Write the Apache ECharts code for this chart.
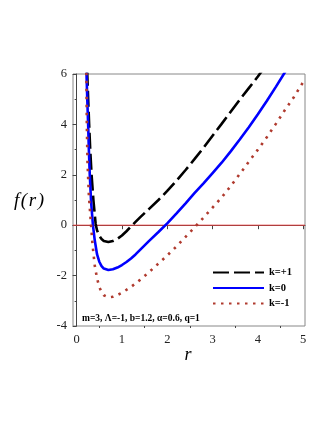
<!DOCTYPE html>
<html>
<head>
<meta charset="utf-8">
<script src="https://cdn.jsdelivr.net/npm/echarts@6/dist/echarts.min.js"></script>
<style>
  html, body { margin: 0; padding: 0; background: #fff; }
  #chart { width: 332px; height: 430px; }
</style>
</head>
<body>
<div id="chart"></div>
<script>
  // k=+1 (black dashed)
  const rBlack = [0.225, 0.235, 0.255, 0.276, 0.30, 0.33, 0.37, 0.42, 0.45, 0.50, 0.55, 0.60, 0.70, 0.80, 0.90, 1.00, 1.10, 1.20, 1.30, 1.40, 1.60, 1.80, 2.00, 2.20, 2.40, 2.60, 2.80, 3.00, 3.20, 3.40, 3.60, 3.80, 4.00, 4.10]
  const fBlack = [7.0, 6.0, 5.0, 4.0, 3.0, 2.0, 1.0, 0.05, -0.2, -0.42, -0.55, -0.63, -0.67, -0.63, -0.54, -0.41, -0.24, -0.05, 0.13, 0.31, 0.65, 0.99, 1.36, 1.76, 2.18, 2.62, 3.07, 3.55, 4.02, 4.50, 4.98, 5.44, 5.90, 6.15]
  // k=0 (blue solid)
  const rBlue = [0.205, 0.218, 0.235, 0.254, 0.27, 0.29, 0.32, 0.36, 0.40, 0.45, 0.50, 0.55, 0.60, 0.70, 0.80, 0.90, 1.00, 1.10, 1.20, 1.30, 1.40, 1.60, 1.80, 2.00, 2.20, 2.40, 2.60, 2.80, 3.00, 3.20, 3.40, 3.60, 3.80, 4.00, 4.20, 4.40, 4.60, 4.70]
  const fBlue = [7.2, 6.0, 5.0, 4.0, 3.0, 2.0, 0.9, 0.0, -0.6, -1.15, -1.45, -1.62, -1.72, -1.78, -1.75, -1.68, -1.58, -1.46, -1.32, -1.16, -0.98, -0.62, -0.28, 0.07, 0.46, 0.86, 1.27, 1.66, 2.07, 2.48, 2.93, 3.40, 3.89, 4.40, 4.94, 5.50, 6.08, 6.38]
  // k=-1 (red dotted)
  const rRed = [0.21, 0.215, 0.225, 0.24, 0.27, 0.31, 0.35, 0.40, 0.45, 0.50, 0.55, 0.60, 0.70, 0.80, 0.90, 1.00, 1.20, 1.40, 1.60, 1.80, 2.00, 2.20, 2.40, 2.60, 2.80, 3.00, 3.20, 3.40, 3.60, 3.80, 4.00, 4.20, 4.40, 4.60, 4.80, 5.00]
  const fRed = [7.0, 6.0, 4.0, 2.5, 1.2, 0.2, -0.75, -1.6, -2.1, -2.45, -2.65, -2.78, -2.86, -2.84, -2.77, -2.68, -2.45, -2.17, -1.86, -1.53, -1.2, -0.85, -0.47, -0.09, 0.3, 0.7, 1.1, 1.55, 2.03, 2.52, 3.0, 3.5, 4.03, 4.58, 5.1, 5.68]
  // horizontal reference line f=0
  const rZero = [-0.08, 5.04]
  const fZero = [0, 0]

  const xMajor = [0, 1, 2, 3, 4, 5]
  const xMinor = [0.5, 1.5, 2.5, 3.5, 4.5]
  const legendNames = ['k=+1', 'k=0', 'k=-1']
  const paramText = 'm=3, Λ=-1, b=1.2, α=0.6, q=1'

  const pairs = (xs, ys) => xs.map((x, i) => [x, ys[i]])
  const serif = '"Liberation Serif", "DejaVu Serif", serif'
  const axisColor = '#444'

  const chart = echarts.init(document.getElementById('chart'))
  chart.setOption({
    animation: false,
    grid: {
      left: 73, right: 27, top: 74, bottom: 104,
      show: true, borderColor: '#888', borderWidth: 1
    },
    legend: {
      orient: 'vertical',
      left: 212,
      top: 266.5,
      padding: 0,
      itemWidth: 51,
      itemHeight: 10,
      itemGap: 3.5,
      data: legendNames,
      itemStyle: { opacity: 0 },
      textStyle: { fontFamily: serif, fontWeight: 'bold', fontSize: 10.5, color: '#000', lineHeight: 12 }
    },
    xAxis: [{
      type: 'value',
      min: -0.08,
      max: 5.04,
      axisLine: { lineStyle: { color: axisColor } },
      axisTick: { show: true, length: 4, customValues: xMajor, lineStyle: { color: axisColor } },
      axisLabel: { customValues: xMajor, margin: 7, fontFamily: serif, fontSize: 12.5, color: '#222' },
      splitLine: { show: false }
    }, {
      type: 'value',
      position: 'bottom',
      min: -0.08,
      max: 5.04,
      axisLine: { show: false },
      axisTick: { show: true, length: 2, customValues: xMinor, lineStyle: { color: axisColor } },
      axisLabel: { show: false },
      splitLine: { show: false }
    }],
    yAxis: {
      type: 'value',
      min: -4,
      max: 6,
      interval: 2,
      axisLine: { show: true, lineStyle: { color: axisColor } },
      axisTick: { show: true, length: 4, lineStyle: { color: axisColor } },
      minorTick: { show: true, splitNumber: 2, length: 2, lineStyle: { color: axisColor } },
      axisLabel: { margin: 6, fontFamily: serif, fontSize: 12.5, color: '#222' },
      splitLine: { show: false }
    },
    graphic: [
      { type: 'text', x: 29, y: 201, style: { text: 'f\u200a(\u200ar\u200a)', font: 'italic 19px ' + serif, fill: '#000', align: 'center', verticalAlign: 'middle' } },
      { type: 'text', x: 188, y: 355, style: { text: 'r', font: 'italic 18px ' + serif, fill: '#000', align: 'center', verticalAlign: 'middle' } },
      { type: 'text', x: 82, y: 319, style: { text: paramText, font: 'bold 9.5px ' + serif, fill: '#000', align: 'left', verticalAlign: 'middle' } }
    ],
    series: [{
      name: 'zero',
      type: 'line',
      silent: true,
      showSymbol: false,
      symbol: 'none',
      z: 1,
      lineStyle: { color: '#e03c3c', width: 1 },
      data: pairs(rZero, fZero)
    }, {
      name: 'k=+1',
      type: 'line',
      showSymbol: false,
      symbol: 'none',
      z: 2,
      color: '#000',
      lineStyle: { color: '#000', width: 2.6, type: [16, 5] },
      data: pairs(rBlack, fBlack)
    }, {
      name: 'k=0',
      type: 'line',
      showSymbol: false,
      symbol: 'none',
      z: 3,
      color: '#0000ff',
      lineStyle: { color: '#0000ff', width: 2.6 },
      data: pairs(rBlue, fBlue)
    }, {
      name: 'k=-1',
      type: 'line',
      showSymbol: false,
      symbol: 'none',
      z: 4,
      color: '#b03a2e',
      lineStyle: { color: '#b03a2e', width: 2.6, type: [2.5, 5.5] },
      data: pairs(rRed, fRed)
    }]
  })
</script>
</body>
</html>
